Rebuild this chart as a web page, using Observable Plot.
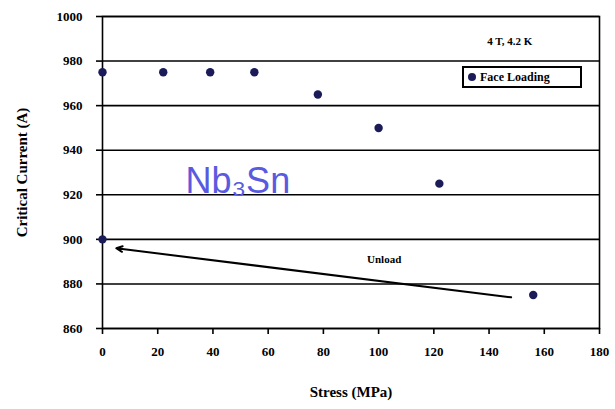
<!DOCTYPE html>
<html><head><meta charset="utf-8">
<script src="https://cdn.jsdelivr.net/npm/d3@7"></script>
<script src="https://cdn.jsdelivr.net/npm/@observablehq/plot@0.6"></script>
<style>
body{margin:0;background:#fff;}
#wrap{position:relative;width:615px;height:409px;}
#legend{position:absolute;left:462px;top:66px;width:120px;height:22px;border:2px solid #000;box-sizing:border-box;font:bold 12px "Liberation Serif",serif;display:flex;align-items:center;padding-left:4px;background:#fff;}
#legend span.dot{display:inline-block;width:8px;height:8px;border-radius:50%;background:#1b1b5a;margin-right:4px;}
</style></head>
<body><div id="wrap"></div>
<script>
const stress = [0, 22, 39, 55, 78, 100, 122, 156, 0];
const current = [975, 975, 975, 975, 965, 950, 925, 875, 900];
const xTicks = [0, 20, 40, 60, 80, 100, 120, 140, 160, 180];
const yTicks = [860, 880, 900, 920, 940, 960, 980, 1000];
const unloadLine = {x1: 148, y1: 874, x2: 5, y2: 896};
const labels = [
  {x: 102, y: 891, text: "Unload"},
  {x: 147.5, y: 989, text: "4 T, 4.2 K"}
];
const formula = [{x: 49, y: 926, text: "Nb₃Sn"}];

const pts = stress.map((s, i) => ({x: s, y: current[i]}));

const chart = Plot.plot({
  width: 615, height: 409,
  marginLeft: 102, marginRight: 16, marginTop: 16, marginBottom: 81,
  style: {fontFamily: "Liberation Serif", fontSize: "13px", fontWeight: "bold", background: "#fff"},
  x: {domain: [0, 180]},
  y: {domain: [860, 1000]},
  marks: [
    Plot.gridY(yTicks, {stroke: "#000", strokeOpacity: 1, strokeWidth: 1.6}),
    Plot.frame({stroke: "#000", strokeWidth: 1.6}),
    Plot.axisX({ticks: xTicks, tickSize: 6, tickPadding: 12, tickFormat: d => String(d), fontSize: 13, strokeWidth: 1.6, label: null}),
    Plot.axisX({ticks: [], label: "Stress (MPa)", labelAnchor: "center", labelArrow: "none", labelOffset: 68, fontSize: 15}),
    Plot.axisY({ticks: yTicks, tickSize: 6, tickPadding: 14, tickFormat: d => String(d), fontSize: 13, strokeWidth: 1.6, label: null}),
    Plot.axisY({ticks: [], label: "Critical Current (A)", labelAnchor: "center", labelArrow: "none", labelOffset: 86, fontSize: 15}),
    Plot.arrow([unloadLine], {x1: "x1", y1: "y1", x2: "x2", y2: "y2", stroke: "#000", strokeWidth: 2, headLength: 5, headAngle: 50}),
    Plot.dot(pts, {x: "x", y: "y", r: 4.2, fill: "#1b1b5a", stroke: "none"}),
    Plot.text(labels, {x: "x", y: "y", text: "text", fontSize: 11, fill: "#000", fontWeight: "bold", textAnchor: "middle"}),
    Plot.text(formula, {x: "x", y: "y", text: "text", fontSize: 36, fill: "#5a5ae0", fontWeight: "normal", fontFamily: "Liberation Sans", textAnchor: "middle"})
  ]
});
const wrap = document.getElementById("wrap");
wrap.appendChild(chart);
const leg = document.createElement("div");
leg.id = "legend";
leg.innerHTML = '<span class="dot"></span>Face Loading';
wrap.appendChild(leg);
</script></body></html>
